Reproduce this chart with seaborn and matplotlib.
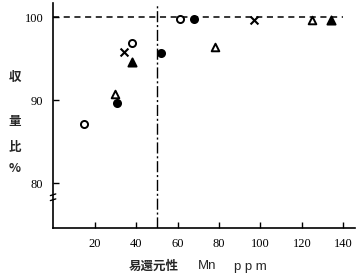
import matplotlib
matplotlib.use("Agg")
import matplotlib.pyplot as plt
import seaborn as sns
import pandas as pd

# data (Mn ppm, yield ratio %)
open_circle_x = [15, 38, 61]
open_circle_y = [87.1, 96.9, 99.8]
filled_circle_x = [31, 52, 68]
filled_circle_y = [89.6, 95.7, 99.8]
open_tri_x = [30, 78, 125]
open_tri_y = [90.7, 96.4, 99.6]
filled_tri_x = [38, 134]
filled_tri_y = [94.6, 99.6]
cross_x = [34, 97]
cross_y = [95.8, 99.7]

ref_yield = 100
ref_mn = 50
xticks = [20, 40, 60, 80, 100, 120, 140]
yticks = [80, 90, 100]

sns.set_theme(style="white")
plt.rcParams['font.family'] = ['Liberation Serif', 'Noto Sans CJK JP']

fig = plt.figure(figsize=(3.61, 2.74), dpi=100)
ax = fig.add_axes([0.147, 0.168, 0.836, 0.821])

groups = [
    (open_circle_x, open_circle_y, "o", "white", 26),
    (filled_circle_x, filled_circle_y, "o", "black", 26),
    (open_tri_x, open_tri_y, "^", "white", 30),
    (filled_tri_x, filled_tri_y, "^", "black", 34),
]
ax.axhline(ref_yield, xmin=0, xmax=(140 - 0) / 145.5, color="black", lw=1.1,
           ls=(0, (4, 3)), zorder=1)
ax.axvline(ref_mn, ymin=0, ymax=1, color="black", lw=1.0,
           ls=(0, (8, 2, 1.5, 2)), zorder=1)
for xs, ys, m, fc, s in groups:
    df = pd.DataFrame({"x": xs, "y": ys})
    sns.scatterplot(data=df, x="x", y="y", marker=m, s=s, facecolor=fc,
                    edgecolor="black", linewidth=1.4, ax=ax, zorder=3)
df = pd.DataFrame({"x": cross_x, "y": cross_y})
sns.scatterplot(data=df, x="x", y="y", marker="x", s=32, color="black",
                linewidth=1.5, ax=ax, zorder=3)

ax.set_xlim(0, 145.5)
ax.set_ylim(74.6, 101.7)
ax.set_xticks(xticks)
ax.set_yticks(yticks)
ax.tick_params(direction="in", length=4, width=1, colors="black",
               labelsize=9, pad=7, bottom=True, left=True)
for sp in ["top", "right"]:
    ax.spines[sp].set_visible(False)
for sp in ["left", "bottom"]:
    ax.spines[sp].set_color("black")
    ax.spines[sp].set_linewidth(1.2)
ax.set_xlabel("")
ax.set_ylabel("")

# axis break marks
for yb in (78.0, 78.6):
    ax.plot([-1.3, 1.3], [yb - 0.1, yb + 0.1], color="black", lw=1,
            clip_on=False, transform=ax.transData)

cjk = ['Noto Sans CJK JP', 'Liberation Serif']
for ch, ypix in [("収", 77), ("量", 122), ("比", 148), ("%", 168)]:
    fig.text(15 / 361, 1 - ypix / 274, ch, ha="center", va="center",
             fontsize=9, family=cjk, fontweight="bold")
fig.text(154 / 361, 1 - 266 / 274, "易還元性", ha="center", va="center",
         fontsize=9, family=cjk, fontweight="bold")
fig.text(207 / 361, 1 - 266 / 274, "Mn", ha="center", va="center",
         fontsize=9.5, family=['Liberation Sans'])
fig.text(250 / 361, 1 - 267 / 274, "p p m", ha="center", va="center",
         fontsize=9.5, family=['Liberation Sans'])

fig.savefig("out.png", dpi=100)
